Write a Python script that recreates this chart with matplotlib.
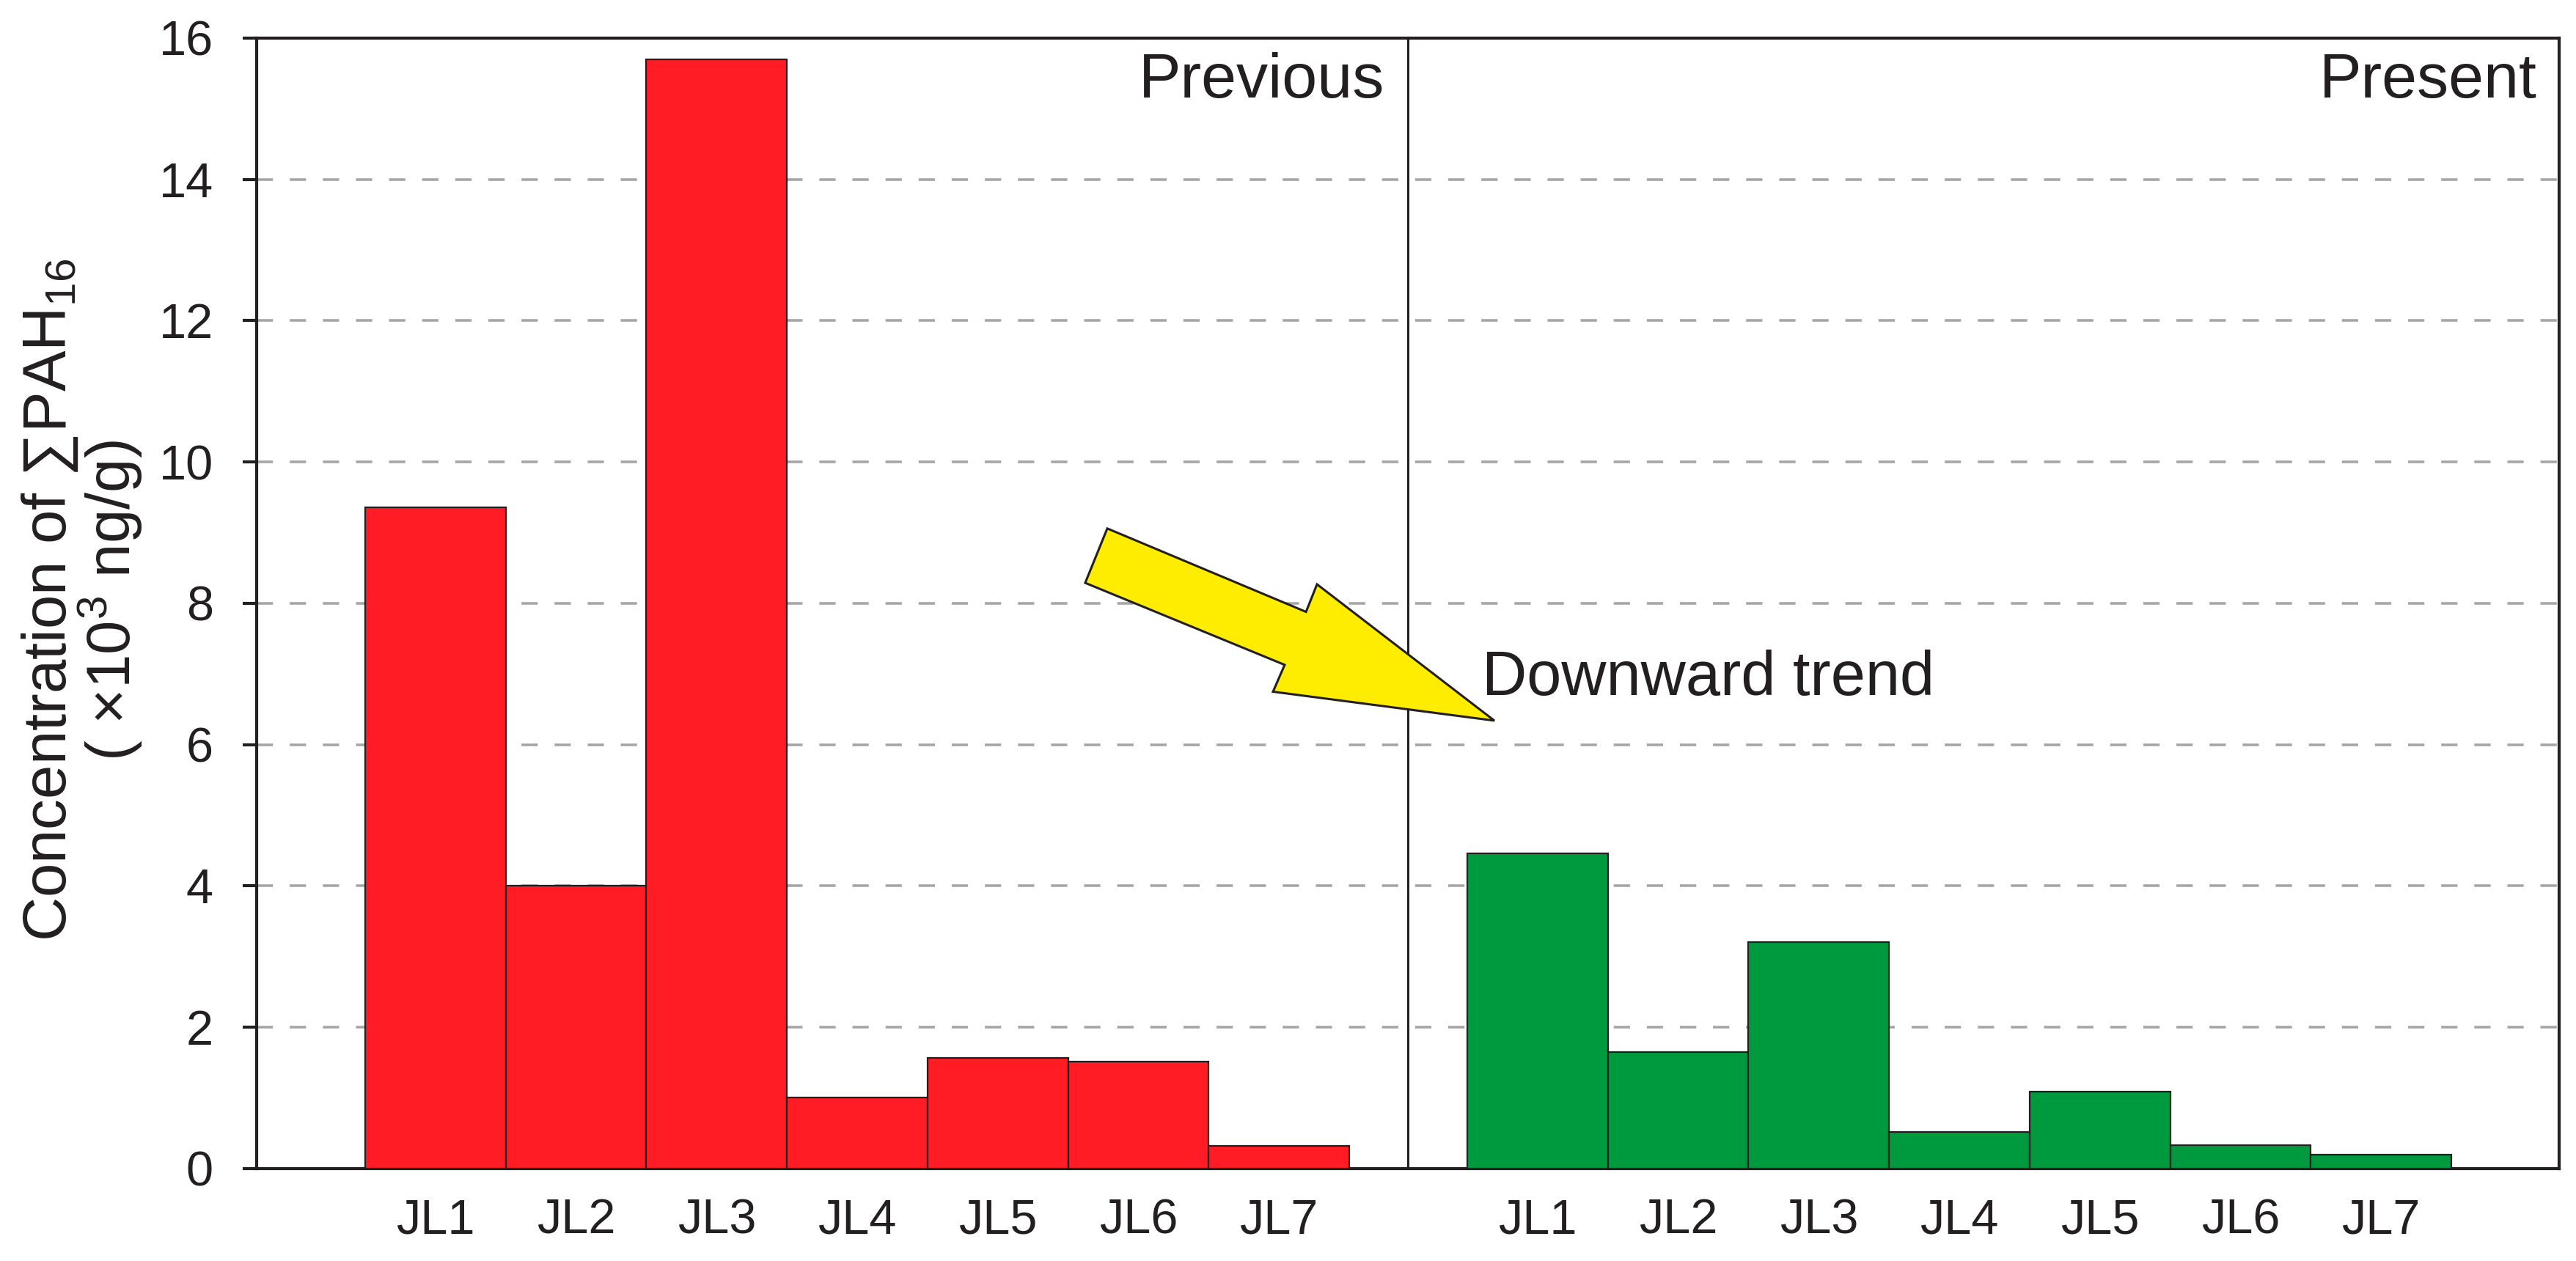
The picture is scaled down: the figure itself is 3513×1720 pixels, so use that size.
import numpy as np
import matplotlib
matplotlib.use('Agg')
import matplotlib.pyplot as plt
from matplotlib.patches import Polygon

plt.rcParams['font.family'] = ['Liberation Sans', 'DejaVu Sans']
plt.rcParams['mathtext.fontset'] = 'custom'
plt.rcParams['mathtext.rm'] = 'Liberation Sans'
plt.rcParams['mathtext.it'] = 'Liberation Sans:italic'
plt.rcParams['mathtext.default'] = 'regular'
plt.rcParams['lines.scale_dashes'] = False

# data: sum of 16 PAHs (x10^3 ng/g) at sites JL1-JL7
sites = ['JL1', 'JL2', 'JL3', 'JL4', 'JL5', 'JL6', 'JL7']
previous = [9.36, 4.01, 15.70, 1.01, 1.57, 1.51, 0.32]
present = [4.46, 1.65, 3.21, 0.52, 1.09, 0.33, 0.20]
yticks = [0, 2, 4, 6, 8, 10, 12, 14, 16]

ink = '#231f20'
red = '#ff1c24'
green = '#009a3e'
yellow = '#ffed00'

fig = plt.figure(figsize=(35.13, 17.2), dpi=100)
ax = fig.add_axes([0.09963, 0.07326, 0.89382, 0.89651])

x_prev = np.arange(len(sites))
x_pres = np.arange(len(sites)) + 7.84

ax.bar(x_prev, previous, width=1.0, color=red, edgecolor=ink, linewidth=1.6, zorder=3)
ax.bar(x_pres, present, width=1.0, color=green, edgecolor=ink, linewidth=1.6, zorder=3)

ax.set_xlim(-1.272, 15.107)
ax.set_ylim(0, 16)
ax.set_yticks(yticks)
ax.set_xticks(list(x_prev) + list(x_pres))
ax.set_xticklabels(sites + sites)

ax.grid(axis='y', color='#a6a6a6', linewidth=2.6, linestyle=(0, (16, 16.5)), zorder=0)
ax.set_axisbelow(True)

for s in ax.spines.values():
    s.set_linewidth(3)
    s.set_color(ink)

ax.tick_params(axis='y', direction='out', length=13.7, width=3, pad=29,
               labelsize=48, colors=ink)
ax.tick_params(axis='x', length=0, pad=29, labelsize=48, colors=ink)

# divider between the two periods
ax.axvline(6.918, color=ink, linewidth=2.2, zorder=4)

ax.text(6.75, 15.16, 'Previous', ha='right', va='baseline', fontsize=62, color=ink)
ax.text(14.95, 15.16, 'Present', ha='right', va='baseline', fontsize=62, color=ink)
ax.text(7.445, 6.70, 'Downward trend', ha='left', va='baseline', fontsize=61, color=ink)

# big yellow arrow
arrow_pts = [(4.779, 9.06), (6.193, 7.88), (6.271, 8.27), (7.533, 6.34),
             (5.958, 6.75), (6.041, 7.13), (4.622, 8.29)]
ax.add_patch(Polygon(arrow_pts, closed=True, facecolor=yellow, edgecolor=ink,
                     linewidth=2.2, joinstyle='miter', zorder=5))

fig.text(0.032, 0.524,
         'Concentration of \u2211PAH$_{16}$\n( \u00d710$^{3}$ ng/g)',
         rotation=90, ha='center', va='center', multialignment='center',
         fontsize=60, linespacing=0.95, color=ink)

plt.savefig('out.png', dpi=100)
